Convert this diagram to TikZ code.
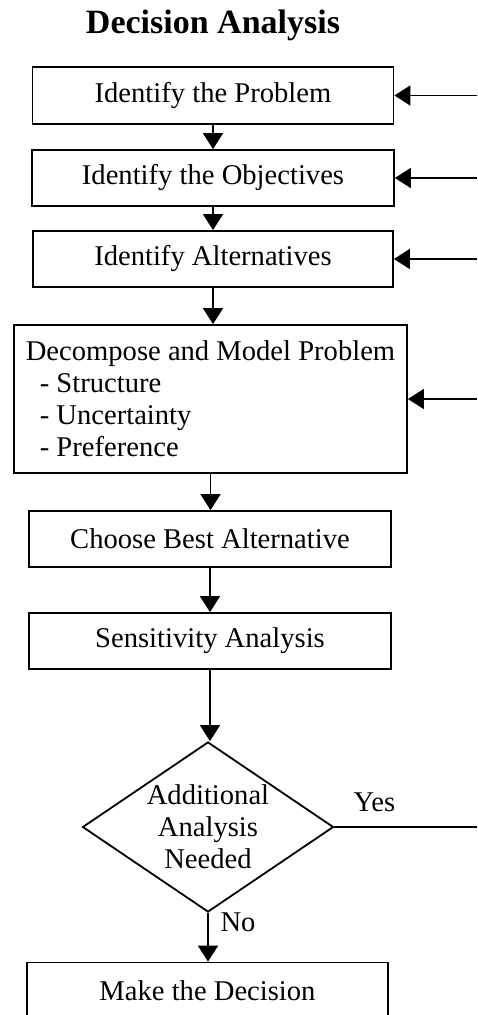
\documentclass[tikz,border=0pt]{standalone}
\usepackage{fontspec}
\setmainfont{Liberation Serif}
\usetikzlibrary{shapes.geometric,arrows.meta,positioning,calc}

\begin{document}
\begin{tikzpicture}[->, >={Triangle[length=8pt,width=10pt]}, x=0.5pt, y=-0.5pt, line width=0.9pt, font=\fontsize{14.3}{16}\selectfont]
		\tikzstyle{stepbox}=[draw=black, text=black, inner sep=2pt, minimum
		width=181pt, minimum height=28pt]
		\tikzstyle{choice}=[draw=black, shape=diamond, shape aspect=1.5,
		inner sep=0pt, align=center, minimum width=125.5pt, minimum height=85pt]
		
		\useasboundingbox (0,0) rectangle (477,1015);
		\coordinate (edge) at (477,0);
		
		\node [font=\fontsize{17}{20}\selectfont\bfseries] (0) at (213,25)
		{Decision Analysis};
		
		\node [stepbox, minimum width=180.5pt, minimum height=28.5pt] (1) at
		(213,95.5) {Identify the Problem}; \node [stepbox] (2) at (213,178)
		{Identify the Objectives};
		
		\node [stepbox, minimum width=180pt] (3) at (213,259) {Identify
		Alternatives};
		
		\node [stepbox, align=left, minimum width=196.5pt, minimum height=74pt]
		(4) at (210.5,399) {Decompose and Model Problem\\ \hspace{7pt}-
		Structure\\ \hspace{7pt}- Uncertainty\\ \hspace{7pt}- Preference};
		
		\node [stepbox] (5) at (210,539) {Choose Best Alternative}; \node
		[stepbox] (6) at (210,641) {Sensitivity Analysis};
		
		\node [choice] (7) at (208,827) {Additional\\ Analysis\\ Needed};
		
		\node [stepbox, minimum width=180.5pt] (8) at (207.5,990.5) {Make the
		Decision};
		
		\draw [->] (1) -- (1 |- 2.north); \draw [->] (2) -- (2 |- 3.north);
		\draw [->] (3) -- (3 |- 4.north); \draw [->] (4) -- (4 |- 5.north);
		\draw [->] (5) -- (5 |- 6.north); \draw [->] (6) -- (6 |- 7.north);
		\draw [->] (7) -- (7 |- 8.north) node [pos=0.2, right=2.5pt] (no)
		{No};
		
		\draw [-] (7) -- (7 -| edge) node [pos=0.28, above=4pt] (yes) {Yes};
		\draw [->] (1 -| edge) -- (1); \draw [->] (2 -| edge) -- (2);
		\draw [->] (3 -| edge) -- (3); \draw [->] (4 -| edge) -- (4);
	\end{tikzpicture}
\end{document}
